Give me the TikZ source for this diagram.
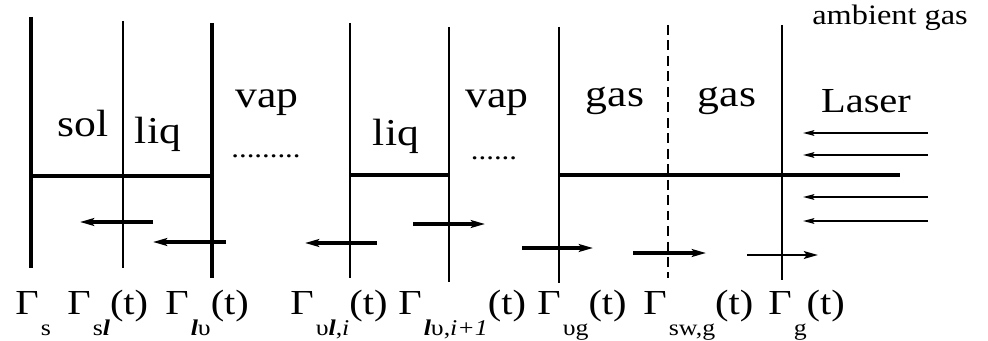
\documentclass[tikz,border=0pt]{standalone}
\usepackage{fontspec}
\setmainfont[FakeStretch=1.15]{Liberation Serif}
\usetikzlibrary{arrows.meta}
\tikzset{
  ifthick/.style={line width=3.2pt},
  ifthin/.style={line width=1.6pt},
  ifdash/.style={line width=1.5pt,dash pattern=on 7pt off 4pt},
  front/.style={line width=2.5pt},
  mv/.style={-{Stealth[length=10pt,width=5.5pt,inset=2pt]},line width=2.5pt},
  mvthin/.style={mv,line width=1.7pt},
  beam/.style={-{Stealth[length=8pt,width=4pt,inset=1.5pt]},line width=1.4pt},
  phase/.style={font=\fontsize{27}{30}\selectfont,inner sep=0pt,anchor=base},
  laser/.style={font=\fontsize{25}{28}\selectfont,inner sep=0pt,anchor=base},
  amb/.style={font=\fontsize{20}{24}\selectfont,inner sep=0pt,anchor=base},
  gam/.style={font=\fontsize{25}{28}\selectfont,inner sep=0pt,anchor=base west},
  dotrow/.style={font=\fontsize{19}{20}\selectfont,inner sep=0pt,anchor=base},
}
\newcommand{\lowsub}[1]{\hspace{1.5pt}\raisebox{-15.5pt}{\fontsize{16}{16}\selectfont #1}}
\newcommand{\bl}{\textbf{\textit{l}}}

\begin{document}
\begin{tikzpicture}[x=0.025cm,y=-0.025cm]
  \useasboundingbox (0,0) rectangle (988,341);

  % Interfaces (top, front crossing, bottom)
  \coordinate (GS_top)  at (31,17);  \coordinate (GS_mid)  at (31,176);  \coordinate (GS_bot)  at (31,268);
  \coordinate (GSL_top) at (123,21); \coordinate (GSL_bot) at (123,268);
  \coordinate (GLV_top) at (212,23); \coordinate (GLV_mid) at (212,176); \coordinate (GLV_bot) at (212,278);
  \coordinate (GVL_top) at (350,23); \coordinate (GVL_mid) at (350,175); \coordinate (GVL_bot) at (350,278);
  \coordinate (GLV1_top) at (449,27); \coordinate (GLV1_mid) at (449,175); \coordinate (GLV1_bot) at (449,282);
  \coordinate (GVG_top) at (559,27); \coordinate (GVG_mid) at (559,175); \coordinate (GVG_bot) at (559,283);
  \coordinate (GSW_top) at (668,25); \coordinate (GSW_bot) at (668,278);
  \coordinate (GG_top)  at (782,25); \coordinate (GG_bot)  at (782,280);
  \coordinate (FRONT_end) at (900,175);

  \draw[ifthick] (GS_top)  -- (GS_bot);
  \draw[ifthin]  (GSL_top) -- (GSL_bot);
  \draw[ifthick] (GLV_top) -- (GLV_bot);
  \draw[ifthin]  (GVL_top) -- (GVL_bot);
  \draw[ifthin]  (GLV1_top) -- (GLV1_bot);
  \draw[ifthin]  (GVG_top) -- (GVG_bot);
  \draw[ifdash]  (GSW_top) -- (GSW_bot);
  \draw[ifthin]  (GG_top)  -- (GG_bot);

  % Horizontal front
  \draw[front] (GS_mid)  -- (GLV_mid);
  \draw[front] (GVL_mid) -- (GLV1_mid);
  \draw[front] (GVG_mid) -- (FRONT_end);

  % Phase labels
  \node[phase] (SOL)  at (83,137)  {sol};
  \node[phase] (LIQ1) at (158,143) {liq};
  \node[phase] (VAP1) at (267,108) {vap};
  \node[dotrow] (DOTS1) at (266,158) {.........};
  \node[phase] (LIQ2) at (396,145) {liq};
  \node[phase] (VAP2) at (497,108) {vap};
  \node[dotrow] (DOTS2) at (494,159) {......};
  \node[phase] (GAS1) at (615,107) {gas};
  \node[phase] (GAS2) at (727,107) {gas};
  \node[laser] (LASER) at (866,113) {Laser};
  \node[amb] (AMB) at (890,25) {ambient gas};

  % Interface motion
  \coordinate (M1a) at (153,222); \coordinate (M1b) at (80,222);
  \coordinate (M2a) at (226,242); \coordinate (M2b) at (153,242);
  \coordinate (M3a) at (377,243); \coordinate (M3b) at (305,243);
  \coordinate (M4a) at (413,224); \coordinate (M4b) at (485,224);
  \coordinate (M5a) at (522,248); \coordinate (M5b) at (593,248);
  \coordinate (M6a) at (633,253); \coordinate (M6b) at (706,253);
  \coordinate (M7a) at (747,255); \coordinate (M7b) at (818,255);
  \draw[mv] (M1a) -- (M1b);
  \draw[mv] (M2a) -- (M2b);
  \draw[mv] (M3a) -- (M3b);
  \draw[mv] (M4a) -- (M4b);
  \draw[mv] (M5a) -- (M5b);
  \draw[mv] (M6a) -- (M6b);
  \draw[mvthin] (M7a) -- (M7b);

  % Laser beams
  \foreach \y [count=\k] in {133,155,197,221}{
    \coordinate (BEAM\k a) at (928,\y);
    \coordinate (BEAM\k b) at (803,\y);
    \draw[beam] (BEAM\k a) -- (BEAM\k b);
  }

  % Interface names
  \node[gam] (L_S)   at (15,314)  {Γ\lowsub{s}};
  \node[gam] (L_SL)  at (67,314)  {Γ\lowsub{s\bl}(t)};
  \node[gam] (L_LV)  at (165,314) {Γ\lowsub{\bl υ}(t)};
  \node[gam] (L_VL)  at (290,314) {Γ\lowsub{υ\bl,\textit{i}}(t)};
  \node[gam] (L_LV1) at (398,314) {Γ\lowsub{\bl υ,\textit{i+1}}(t)};
  \node[gam] (L_VG)  at (537,314) {Γ\lowsub{υg}(t)};
  \node[gam] (L_SW)  at (643,314) {Γ\lowsub{sw,g}(t)};
  \node[gam] (L_G)   at (768,314) {Γ\lowsub{g}(t)};
\end{tikzpicture}
\end{document}
